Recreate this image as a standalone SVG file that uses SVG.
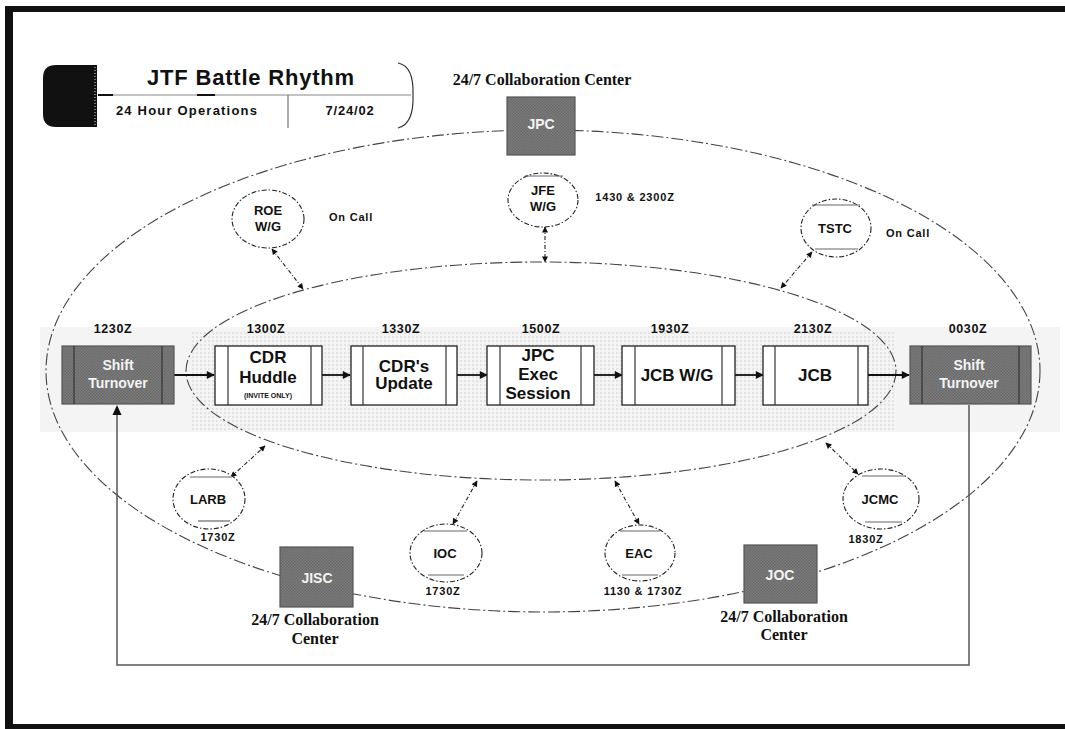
<svg xmlns="http://www.w3.org/2000/svg" width="1065" height="729" viewBox="0 0 1065 729">
<defs>
<style>
.t{font-family:"Liberation Sans",Arial,sans-serif;font-weight:bold;fill:#111;text-anchor:middle}
.s{font-family:"Liberation Serif","Times New Roman",serif;font-weight:bold;fill:#111;text-anchor:middle;font-size:16px}
.time{font-size:12.5px;letter-spacing:0.6px}
.box{fill:#fff;stroke:#222;stroke-width:1.3}
.inner{stroke:#333;stroke-width:1.2}
.gbox{fill:url(#tex);stroke:#555;stroke-width:1.2}
.wt{fill:#f4f4f4;font-size:14px}
.sat{fill:#fff;stroke:#222;stroke-width:1.1;stroke-dasharray:5 2 1.5 2}
.satl{stroke:#666;stroke-width:1.2}
.ell{fill:none;stroke:#444;stroke-width:1.1;stroke-dasharray:12 3 2 3}
.flow{stroke:#111;stroke-width:1.8;fill:none;marker-end:url(#ah)}
.link{stroke:#222;stroke-width:1.1;stroke-dasharray:4 2 1 2;fill:none;marker-start:url(#sh);marker-end:url(#sh)}
.loop{stroke:#555;stroke-width:1.5;fill:none}
.lab{font-size:11px;letter-spacing:0.8px}
</style>
<pattern id="dots" width="4" height="4" patternUnits="userSpaceOnUse">
<circle cx="1" cy="1" r="0.7" fill="#c4c4c4"/>
</pattern>
<pattern id="tex" width="3" height="3" patternUnits="userSpaceOnUse">
<rect width="3" height="3" fill="#7c7c7c"/>
<rect width="1.5" height="1.5" fill="#6a6a6a"/>
<rect x="1.5" y="1.5" width="1.5" height="1.5" fill="#6a6a6a"/>
</pattern>
<marker id="ah" viewBox="0 0 10 10" refX="9" refY="5" markerWidth="9" markerHeight="8" markerUnits="userSpaceOnUse" orient="auto">
<path d="M0,0 L10,5 L0,10 Z" fill="#111"/>
</marker>
<marker id="sh" viewBox="0 0 10 10" refX="9" refY="5" markerWidth="7" markerHeight="6" markerUnits="userSpaceOnUse" orient="auto-start-reverse">
<path d="M0,0 L10,5 L0,10 Z" fill="#111"/>
</marker>
</defs>

<rect width="1065" height="729" fill="#fff"/>

<!-- frame -->
<g id="frame">
<rect x="5" y="6" width="1060" height="6" fill="#111"/>
<rect x="5" y="6" width="8" height="723" fill="#111"/>
<rect x="5" y="724" width="1060" height="5" fill="#111"/>
</g>

<!-- title block -->
<g id="title">
<path d="M97 65 L56 65 Q43 65 43 78 L43 114 Q43 127 56 127 L97 127 Z" fill="#111"/>
<line x1="95" y1="67" x2="95" y2="125" stroke="#ddd" stroke-width="1" stroke-dasharray="1 2"/>
<line x1="98" y1="95" x2="411" y2="95" stroke="#888" stroke-width="1.2"/>
<line x1="98" y1="95" x2="113" y2="95" stroke="#111" stroke-width="2"/>
<line x1="197" y1="95" x2="215" y2="95" stroke="#111" stroke-width="2"/>
<line x1="288" y1="95" x2="288" y2="128" stroke="#777" stroke-width="1.2"/>
<path d="M398 63 Q414 66 413 95 Q414 124 398 128" fill="none" stroke="#333" stroke-width="1.2"/>
<text class="t" x="251" y="85" font-size="22" letter-spacing="0.8">JTF Battle Rhythm</text>
<text class="t" x="187" y="115" font-size="13" letter-spacing="1.2">24 Hour Operations</text>
<text class="t" x="350" y="115" font-size="13" letter-spacing="0.8">7/24/02</text>
</g>

<!-- background bands -->
<rect x="40" y="327" width="1020" height="105" fill="#f4f4f4"/>
<rect x="192" y="330" width="703" height="100" fill="url(#dots)"/>

<!-- boundary ellipses -->
<g id="boundaries">
<ellipse class="ell" cx="543" cy="371" rx="497" ry="241"/>
<ellipse class="ell" cx="541" cy="371" rx="355" ry="109"/>
</g>

<!-- connectors -->
<g id="connectors">
<line class="flow" x1="174" y1="375" x2="214" y2="375"/>
<line class="flow" x1="322" y1="375" x2="350" y2="375"/>
<line class="flow" x1="457" y1="375" x2="487" y2="375"/>
<line class="flow" x1="594" y1="375" x2="622" y2="375"/>
<line class="flow" x1="735" y1="375" x2="763" y2="375"/>
<line class="flow" x1="868" y1="375" x2="909" y2="375"/>
<path class="loop" d="M969 405 L969 665 L117 665 L117 413"/>
<path d="M117 405 L112.5 415 L121.5 415 Z" fill="#111"/>
<line class="link" x1="272" y1="249" x2="303" y2="289"/>
<line class="link" x1="545" y1="227" x2="545" y2="262"/>
<line class="link" x1="812" y1="252" x2="781" y2="288"/>
<line class="link" x1="231" y1="477" x2="265" y2="446"/>
<line class="link" x1="477" y1="481" x2="453" y2="524"/>
<line class="link" x1="615" y1="481" x2="639" y2="524"/>
<line class="link" x1="826" y1="443" x2="858" y2="474"/>
</g>

<!-- collaboration centers -->
<g id="jpc">
<rect class="gbox" x="507" y="97" width="68" height="58"/>
<text class="t wt" x="541" y="129">JPC</text>
<text class="s" x="542" y="85">24/7 Collaboration Center</text>
</g>
<g id="jisc">
<rect class="gbox" x="280" y="547" width="73" height="60"/>
<text class="t wt" x="317" y="583">JISC</text>
<text class="s" x="315" y="625">24/7 Collaboration</text>
<text class="s" x="315" y="644">Center</text>
</g>
<g id="joc">
<rect class="gbox" x="744" y="545" width="73" height="58"/>
<text class="t wt" x="780" y="580">JOC</text>
<text class="s" x="784" y="622">24/7 Collaboration</text>
<text class="s" x="784" y="640">Center</text>
</g>

<!-- process boxes -->
<g id="shift1">
<rect class="gbox" x="62" y="346" width="112" height="58"/>
<line class="inner" x1="74" y1="346" x2="74" y2="404" stroke="#444"/>
<line class="inner" x1="162" y1="346" x2="162" y2="404" stroke="#444"/>
<text class="t wt" x="118" y="370" font-size="15">Shift</text>
<text class="t wt" x="118" y="388" font-size="15">Turnover</text>
<text class="t time" x="113" y="333">1230Z</text>
</g>
<g id="cdrhuddle">
<rect class="box" x="215" y="346" width="107" height="59"/>
<line class="inner" x1="228" y1="346" x2="228" y2="405"/>
<line class="inner" x1="311" y1="346" x2="311" y2="405"/>
<text class="t" x="268" y="363" font-size="17">CDR</text>
<text class="t" x="268" y="383" font-size="17">Huddle</text>
<text class="t" x="268" y="398" font-size="7">(INVITE ONLY)</text>
<text class="t time" x="266" y="333">1300Z</text>
</g>
<g id="cdrupdate">
<rect class="box" x="351" y="346" width="106" height="59"/>
<line class="inner" x1="363" y1="346" x2="363" y2="405"/>
<line class="inner" x1="446" y1="346" x2="446" y2="405"/>
<text class="t" x="404" y="372" font-size="17">CDR's</text>
<text class="t" x="404" y="389" font-size="17">Update</text>
<text class="t time" x="401" y="333">1330Z</text>
</g>
<g id="jpcexec">
<rect class="box" x="487" y="346" width="107" height="59"/>
<line class="inner" x1="500" y1="346" x2="500" y2="405"/>
<line class="inner" x1="581" y1="346" x2="581" y2="405"/>
<text class="t" x="538" y="361" font-size="17">JPC</text>
<text class="t" x="538" y="380" font-size="17">Exec</text>
<text class="t" x="538" y="399" font-size="17">Session</text>
<text class="t time" x="541" y="333">1500Z</text>
</g>
<g id="jcbwg">
<rect class="box" x="622" y="346" width="113" height="59"/>
<line class="inner" x1="635" y1="346" x2="635" y2="405"/>
<line class="inner" x1="722" y1="346" x2="722" y2="405"/>
<text class="t" x="677" y="381" font-size="17">JCB W/G</text>
<text class="t time" x="670" y="333">1930Z</text>
</g>
<g id="jcb">
<rect class="box" x="763" y="346" width="105" height="59"/>
<line class="inner" x1="775" y1="346" x2="775" y2="405"/>
<line class="inner" x1="858" y1="346" x2="858" y2="405"/>
<text class="t" x="815" y="381" font-size="17">JCB</text>
<text class="t time" x="813" y="333">2130Z</text>
</g>
<g id="shift2">
<rect class="gbox" x="910" y="346" width="121" height="58"/>
<line class="inner" x1="922" y1="346" x2="922" y2="404" stroke="#444"/>
<line class="inner" x1="1019" y1="346" x2="1019" y2="404" stroke="#444"/>
<text class="t wt" x="969" y="370" font-size="15">Shift</text>
<text class="t wt" x="969" y="388" font-size="15">Turnover</text>
<text class="t time" x="968" y="333">0030Z</text>
</g>

<!-- satellites -->
<g id="roe">
<ellipse class="sat" cx="268" cy="219" rx="36" ry="29"/>
<text class="t" x="268" y="215" font-size="13">ROE</text>
<text class="t" x="268" y="231" font-size="13">W/G</text>
<text class="t lab" x="351" y="221">On Call</text>
</g>
<g id="jfe">
<ellipse class="sat" cx="543" cy="200" rx="35" ry="27"/>
<line class="satl" x1="525" y1="176" x2="563" y2="176"/>
<text class="t" x="543" y="195" font-size="13">JFE</text>
<text class="t" x="543" y="211" font-size="13">W/G</text>
<text class="t lab" x="635" y="201" font-size="10.5" letter-spacing="0.5">1430 &amp; 2300Z</text>
</g>
<g id="tstc">
<ellipse class="sat" cx="836" cy="228" rx="35" ry="29"/>
<line class="satl" x1="812" y1="205" x2="860" y2="205"/>
<line class="satl" x1="815" y1="249" x2="858" y2="249"/>
<text class="t" x="835" y="233" font-size="13">TSTC</text>
<text class="t lab" x="908" y="237">On Call</text>
</g>
<g id="larb">
<ellipse class="sat" cx="209" cy="499" rx="36" ry="30"/>
<line class="satl" x1="190" y1="477" x2="232" y2="477"/>
<line class="satl" x1="198" y1="521" x2="230" y2="521"/>
<text class="t" x="208" y="504" font-size="13">LARB</text>
<text class="t lab" x="218" y="541" font-size="10.5" letter-spacing="0.5">1730Z</text>
</g>
<g id="ioc">
<ellipse class="sat" cx="446" cy="553" rx="36" ry="29"/>
<line class="satl" x1="424" y1="531" x2="467" y2="531"/>
<line class="satl" x1="428" y1="575" x2="464" y2="575"/>
<text class="t" x="445" y="558" font-size="13">IOC</text>
<text class="t lab" x="443" y="595" font-size="10.5" letter-spacing="0.5">1730Z</text>
</g>
<g id="eac">
<ellipse class="sat" cx="640" cy="553" rx="35" ry="28"/>
<line class="satl" x1="620" y1="531" x2="660" y2="531"/>
<line class="satl" x1="622" y1="575" x2="658" y2="575"/>
<text class="t" x="639" y="558" font-size="13">EAC</text>
<text class="t lab" x="643" y="595" font-size="10.5" letter-spacing="0.5">1130 &amp; 1730Z</text>
</g>
<g id="jcmc">
<ellipse class="sat" cx="881" cy="499" rx="38" ry="30"/>
<line class="satl" x1="862" y1="476" x2="905" y2="476"/>
<line class="satl" x1="865" y1="522" x2="902" y2="522"/>
<text class="t" x="880" y="504" font-size="13">JCMC</text>
<text class="t lab" x="866" y="543" font-size="10.5" letter-spacing="0.5">1830Z</text>
</g>
</svg>
